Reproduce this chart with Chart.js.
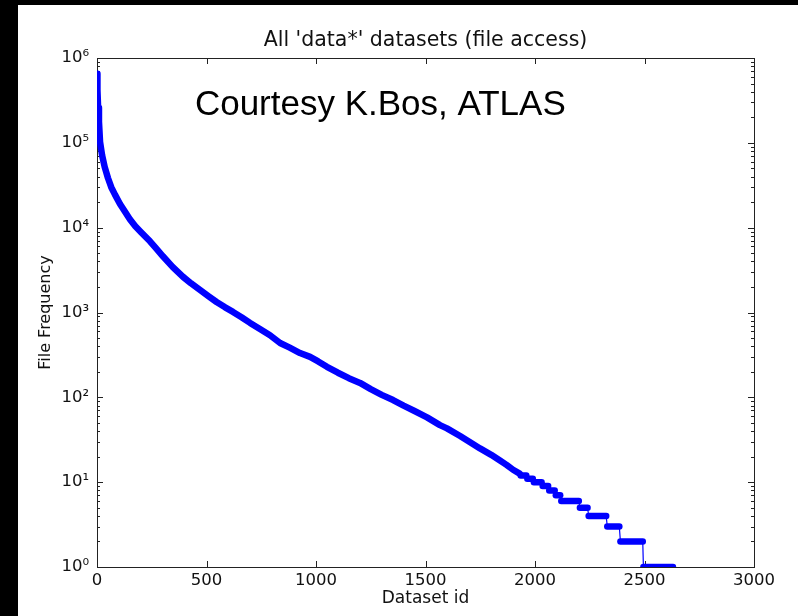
<!DOCTYPE html>
<html lang="en">
<head>
<meta charset="UTF-8">
<title>All 'data*' datasets (file access)</title>
<script src="https://cdn.jsdelivr.net/npm/chart.js"></script>
<style>
  html, body { margin: 0; padding: 0; background: #000; }
  .container { width: 798px; height: 616px; }
</style>
</head>
<body>
<div class="container">
  <canvas id="accessChart" width="798" height="616"></canvas>
</div>
<script>
// dataset id (sorted by access count) and file frequency
const datasetIds = [
  0, 2, 5, 9, 14, 23, 35, 50, 65, 82, 105, 128, 150, 175, 200, 242, 270, 301, 345, 393,
  430, 470, 510, 546, 585, 621, 660, 699, 744, 790, 836, 880, 927, 973, 1010, 1050, 1100,
  1150, 1201, 1250, 1300, 1352, 1400, 1450, 1507, 1566, 1598, 1658, 1700, 1749, 1800, 1840,
  1870, 1900, 1930,
  1935, 1960, 1965, 1990, 1995, 2030, 2035, 2060, 2065, 2090, 2095, 2115,
  2120, 2200, 2205, 2240, 2245, 2325, 2330, 2385, 2390, 2492, 2495, 2630
];
const fileFrequency = [
  650000, 420000, 260000, 178000, 102000, 72000, 52000, 38500, 30000, 24500, 19000, 15400,
  12600, 10400, 8900, 6900, 5700, 4600, 3450, 2630, 2200, 1850, 1550, 1330, 1150, 1016, 880,
  754, 640, 540, 437, 385, 333, 300, 265, 229, 195, 168, 148, 125, 107, 93, 80, 69, 58, 47,
  43, 35, 30, 25, 21, 18, 16, 14, 12.6,
  12, 12, 11, 11, 10, 10, 9, 9, 8, 8, 7, 7,
  6, 6, 5, 5, 4, 4, 3, 3, 2, 2, 1, 1
];

const xTickValues = [0, 500, 1000, 1500, 2000, 2500, 3000];
const yTickValues = [1, 10, 100, 1000, 10000, 100000, 1000000];
const yTickLabels = ['10⁰', '10¹', '10²', '10³', '10⁴', '10⁵', '10⁶'];

const courtesyText = 'Courtesy K.Bos, ATLAS';
const courtesyAt = { x: 447, y: 210000 };

const BLUE = '#0000ff';
const INK = '#111';

// black margin top/left, white figure
const figureBg = {
  id: 'figureBg',
  beforeDraw(chart) {
    const c = chart.ctx;
    c.save();
    c.fillStyle = '#000';
    c.fillRect(0, 0, chart.width, chart.height);
    c.fillStyle = '#fff';
    c.fillRect(18, 5, chart.width - 18, chart.height - 5);
    c.restore();
  }
};

// matplotlib style frame with inward ticks on all four sides
const frameTicks = {
  id: 'frameTicks',
  beforeDatasetsDraw(chart) {
    const { ctx: c, chartArea: a, scales } = chart;
    const xs = scales.x, ys = scales.y;
    c.save();
    c.strokeStyle = '#222';
    c.lineWidth = 1;
    c.strokeRect(a.left + 0.5, a.top + 0.5, a.right - a.left, a.bottom - a.top);
    c.beginPath();
    xTickValues.forEach(v => {
      const px = Math.round(xs.getPixelForValue(v)) + 0.5;
      c.moveTo(px, a.bottom); c.lineTo(px, a.bottom - 6);
      c.moveTo(px, a.top); c.lineTo(px, a.top + 6);
    });
    yTickValues.forEach((v, i) => {
      const py = Math.round(ys.getPixelForValue(v)) + 0.5;
      c.moveTo(a.left, py); c.lineTo(a.left + 6, py);
      c.moveTo(a.right, py); c.lineTo(a.right - 6, py);
      if (i < yTickValues.length - 1) {
        for (let k = 2; k <= 9; k++) {
          const my = Math.round(ys.getPixelForValue(v * k)) + 0.5;
          c.moveTo(a.left, my); c.lineTo(a.left + 3, my);
          c.moveTo(a.right, my); c.lineTo(a.right - 3, my);
        }
      }
    });
    c.stroke();
    c.restore();
  },
  afterDatasetsDraw(chart) {
    const c = chart.ctx;
    c.save();
    c.fillStyle = '#000';
    c.font = '35px "Liberation Sans", Arial, sans-serif';
    c.textAlign = 'left';
    c.textBaseline = 'alphabetic';
    c.fillText(courtesyText, chart.scales.x.getPixelForValue(courtesyAt.x),
      chart.scales.y.getPixelForValue(courtesyAt.y));
    c.restore();
  }
};

const THICK = 6.5;
// thin connector only where the integer plateaus drop
function isDrop(ctx) {
  return ctx.p0.parsed.y < 20 && ctx.p1.parsed.x - ctx.p0.parsed.x < 8 &&
    ctx.p1.parsed.y !== ctx.p0.parsed.y;
}

const ctx = document.getElementById('accessChart').getContext('2d');
new Chart(ctx, {
  type: 'line',
  data: {
    datasets: [{
      data: datasetIds.map((x, i) => ({ x: x, y: fileFrequency[i] })),
      borderColor: BLUE,
      borderWidth: THICK,
      borderCapStyle: 'round',
      borderJoinStyle: 'round',
      pointRadius: 0,
      tension: 0,
      clip: 0,
      segment: {
        borderWidth: c => isDrop(c) ? 1.2 : THICK
      }
    }]
  },
  plugins: [figureBg, frameTicks],
  options: {
    responsive: false,
    animation: false,
    layout: { padding: { left: 18, right: 44, top: 5, bottom: 0 } },
    plugins: {
      legend: { display: false },
      tooltip: { enabled: false },
      title: {
        display: true,
        fullSize: false,
        text: "All 'data*' datasets (file access)",
        color: INK,
        font: { family: 'DejaVu Sans', size: 20.5, weight: 'normal' },
        padding: { top: 23, bottom: 5.4 }
      }
    },
    scales: {
      x: {
        type: 'linear',
        min: 0,
        max: 3000,
        afterBuildTicks: s => { s.ticks = xTickValues.map(v => ({ value: v })); },
        afterFit: s => { s.height = 49; },
        grid: { display: false, drawTicks: false },
        border: { display: false },
        ticks: {
          color: INK,
          padding: 4,
          maxRotation: 0,
          font: { family: 'DejaVu Sans', size: 16.5 },
          callback: v => String(v)
        },
        title: {
          display: true,
          text: 'Dataset id',
          color: INK,
          font: { family: 'DejaVu Sans', size: 17 },
          padding: { top: 0, bottom: 7 }
        }
      },
      y: {
        type: 'logarithmic',
        min: 1,
        max: 1000000,
        afterBuildTicks: s => { s.ticks = yTickValues.map(v => ({ value: v })); },
        afterFit: s => { s.width = 79; },
        grid: { display: false, drawTicks: false },
        border: { display: false },
        ticks: {
          color: INK,
          padding: 8,
          font: { family: 'DejaVu Sans', size: 16.5 },
          callback: v => yTickLabels[yTickValues.indexOf(v)] || ''
        },
        title: {
          display: true,
          text: 'File Frequency',
          color: INK,
          font: { family: 'DejaVu Sans', size: 16 },
          padding: { top: 18, bottom: 0 }
        }
      }
    }
  }
});
</script>
</body>
</html>
